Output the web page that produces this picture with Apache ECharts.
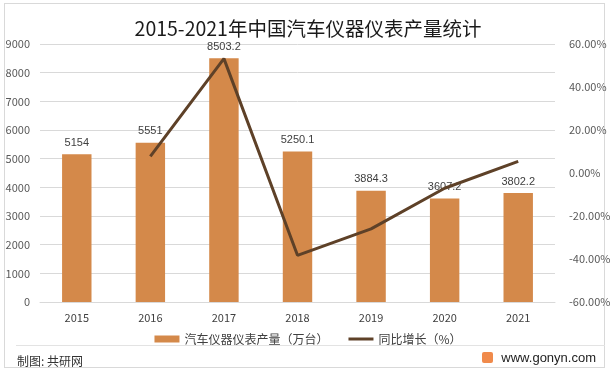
<!DOCTYPE html>
<html>
<head>
<meta charset="utf-8">
<script src="https://cdn.jsdelivr.net/npm/echarts@6/dist/echarts.min.js"></script>
<style>
  html, body { margin: 0; padding: 0; background: #fff; }
  .wrap {
    position: relative;
    width: 616px;
    height: 376px;
    font-family: 'Noto Sans CJK SC', sans-serif;
  }
  .frame {
    position: absolute;
    left: 4px; top: 3px; width: 601px; height: 365px;
    border: 1px solid #d9d9d9;
    box-sizing: border-box;
  }
  #chart { position: absolute; left: 0; top: 0; width: 616px; height: 376px; }
  .sep { position: absolute; left: 16px; top: 345px; width: 589px; height: 1px; background: #e3e3e3; }
  .source { position: absolute; left: 17px; top: 352px; font-size: 12px; color: #333; }
  .site { position: absolute; right: 20px; top: 350px; font-size: 13px; color: #222; font-family: Arial, 'Liberation Sans', sans-serif; }
  .logo { display: inline-block; width: 11px; height: 11px; background: #f08a4b; border-radius: 2px; margin-right: 8px; vertical-align: -1px; }
</style>
</head>
<body>
<div class="wrap">
  <div class="frame"></div>
  <div id="chart"></div>
  <div class="sep"></div>
  <div class="source">制图: 共研网</div>
  <div class="site"><span class="logo"></span>www.gonyn.com</div>
</div>
<script>
  // 数据
  const years = ['2015', '2016', '2017', '2018', '2019', '2020', '2021']
  const output = [5154, 5551, 8503.2, 5250.1, 3884.3, 3607.2, 3802.2] // 万台
  const growth = [null, 7.7, 53.2, -38.3, -26.0, -7.1, 5.4] // %

  const myChart = echarts.init(document.getElementById('chart'))

  const axisText = { color: '#595959', fontSize: 11, fontFamily: 'Noto Sans CJK SC' }

  const option = {
    animation: false,
    title: {
      text: '2015-2021年中国汽车仪器仪表产量统计',
      left: 'center',
      top: 14,
      textStyle: { fontSize: 19.5, fontWeight: 'normal', color: '#1a1a1a', fontFamily: 'Noto Sans CJK SC' },
    },
    legend: {
      data: [
        { name: '汽车仪器仪表产量（万台）', icon: 'rect' },
        { name: '同比增长（%）', icon: 'path://M0,0L25,0L25,3L0,3Z' },
      ],
      left: 'center',
      top: 328,
      itemWidth: 25,
      itemHeight: 7,
      itemGap: 20,
      textStyle: { color: '#404040', fontSize: 12, fontFamily: 'Noto Sans CJK SC' },
    },
    grid: { left: 40, right: 61, top: 44, bottom: 74 },
    xAxis: {
      type: 'category',
      data: years,
      axisLine: { lineStyle: { color: '#d9d9d9' } },
      axisTick: { show: false },
      axisLabel: { color: '#404040', fontSize: 11, margin: 10, fontFamily: 'Noto Sans CJK SC' },
    },
    yAxis: [
      {
        type: 'value',
        min: 0,
        max: 9000,
        interval: 1000,
        axisLine: { show: false },
        axisTick: { show: false },
        axisLabel: { ...axisText, margin: 10, formatter: (v) => String(v) },
        splitLine: { lineStyle: { color: '#d9d9d9' } },
      },
      {
        type: 'value',
        min: -60,
        max: 60,
        interval: 20,
        axisLine: { show: false },
        axisTick: { show: false },
        axisLabel: { ...axisText, margin: 14, formatter: (v) => v.toFixed(2) + '%' },
        splitLine: { show: false },
      },
    ],
    series: [
      {
        name: '汽车仪器仪表产量（万台）',
        type: 'bar',
        data: output,
        barWidth: '40%',
        itemStyle: { color: '#d4894a' },
        label: {
          show: true,
          position: 'top',
          color: '#404040',
          fontSize: 11,
          distance: 6,
        },
      },
      {
        name: '同比增长（%）',
        type: 'line',
        yAxisIndex: 1,
        data: growth,
        symbol: 'none',
        lineStyle: { color: '#5e4128', width: 3 },
        itemStyle: { color: '#5e4128' },
      },
    ],
  }

  myChart.setOption(option)
</script>
</body>
</html>
